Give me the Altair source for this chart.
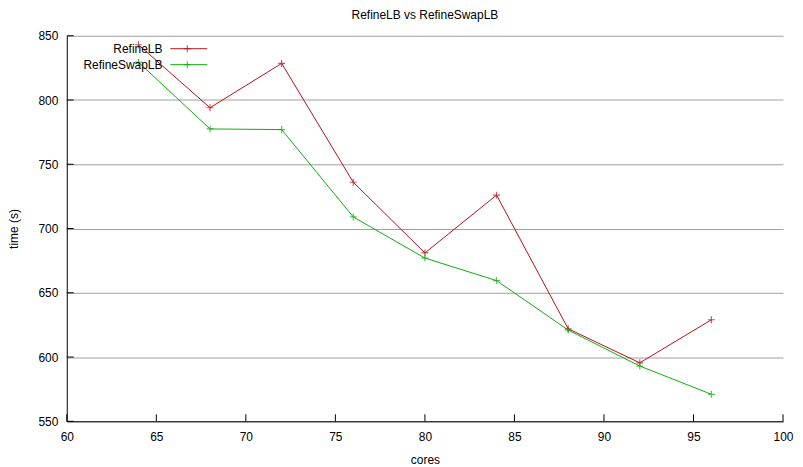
import altair as alt
import pandas as pd

cores = [64, 68, 72, 76, 80, 84, 88, 92, 96]
refine_lb = [843, 794, 828.5, 736, 681, 726, 622, 595.5, 629]
refine_swap_lb = [829.5, 777.5, 777, 709, 677, 659.5, 621, 593, 571]
series_names = ["RefineLB", "RefineSwapLB"]
colors = ["#b5121b", "#0fad0f"]
x_ticks = [60, 65, 70, 75, 80, 85, 90, 95, 100]
y_ticks = [550, 600, 650, 700, 750, 800, 850]

W, H = 719, 387
FONT = "Liberation Sans"
plus = "M-1,0L1,0M0,-1L0,1"

df = pd.DataFrame({
    "cores": cores * 2,
    "time": refine_lb + refine_swap_lb,
    "series": [series_names[0]] * len(cores) + [series_names[1]] * len(cores),
})

xs = alt.Scale(domain=[60, 100], nice=False, zero=False)
ys = alt.Scale(domain=[550, 850], nice=False, zero=False)
color = alt.Color("series:N", scale=alt.Scale(domain=series_names, range=colors), legend=None)

base = alt.Chart(df)
lines = base.mark_line(strokeWidth=1, clip=True).encode(
    x=alt.X("cores:Q", scale=xs, axis=alt.Axis(
        values=x_ticks, grid=False, ticks=False, labelPadding=10, title="cores",
        titlePadding=12, domainColor="black", labelFont=FONT, labelFontSize=12,
        labelColor="black", titleFont=FONT, titleFontSize=12, titleFontWeight="normal",
        titleColor="black", labelFlush=False)),
    y=alt.Y("time:Q", scale=ys, axis=alt.Axis(
        values=y_ticks, grid=True, gridColor="#a0a0a0", gridOpacity=1, ticks=False,
        labelPadding=9, title="time (s)", titlePadding=17, domainColor="black",
        labelFont=FONT, labelFontSize=12, labelColor="black", titleFont=FONT,
        titleFontSize=12, titleFontWeight="normal", titleColor="black")),
    color=color,
    detail="series:N",
)
points = base.mark_point(shape=plus, size=49, strokeWidth=1.2, filled=False).encode(
    x=alt.X("cores:Q", scale=xs), y=alt.Y("time:Q", scale=ys), color=color)

xt = alt.Chart(pd.DataFrame({"t": x_ticks})).mark_rule(color="black", strokeWidth=1).encode(
    x=alt.X("t:Q", scale=xs), y=alt.value(H), y2=alt.value(H - 7))
yt = alt.Chart(pd.DataFrame({"t": y_ticks})).mark_rule(color="black", strokeWidth=1).encode(
    y=alt.Y("t:Q", scale=ys), x=alt.value(0), x2=alt.value(7))

legend_layers = []
leg_rows = [13, 29]
for name, col, ry in zip(series_names, colors, leg_rows):
    one = alt.Chart(pd.DataFrame({"s": [name]}))
    legend_layers.append(one.mark_text(align="right", baseline="middle", font=FONT,
                                       fontSize=12, color="black").encode(
        text="s:N", x=alt.value(96), y=alt.value(ry)))
    legend_layers.append(one.mark_rule(color=col, strokeWidth=1).encode(
        x=alt.value(104), x2=alt.value(141), y=alt.value(ry)))
    legend_layers.append(one.mark_point(shape=plus, size=49, strokeWidth=1.2, color=col,
                                        filled=False).encode(
        x=alt.value(121), y=alt.value(ry)))

chart = alt.layer(lines, xt, yt, points, *legend_layers).properties(
    width=W, height=H,
    title=alt.TitleParams("RefineLB vs RefineSwapLB", font=FONT, fontSize=12,
                          fontWeight="normal", color="black", offset=8),
    autosize=alt.AutoSizeParams(type="none"),
    padding={"left": 59, "top": 27, "right": 12, "bottom": 45},
).configure_view(stroke=None).configure_axis(domainWidth=1)

chart.save("out.html", embed_options={"renderer": "svg", "actions": False})
